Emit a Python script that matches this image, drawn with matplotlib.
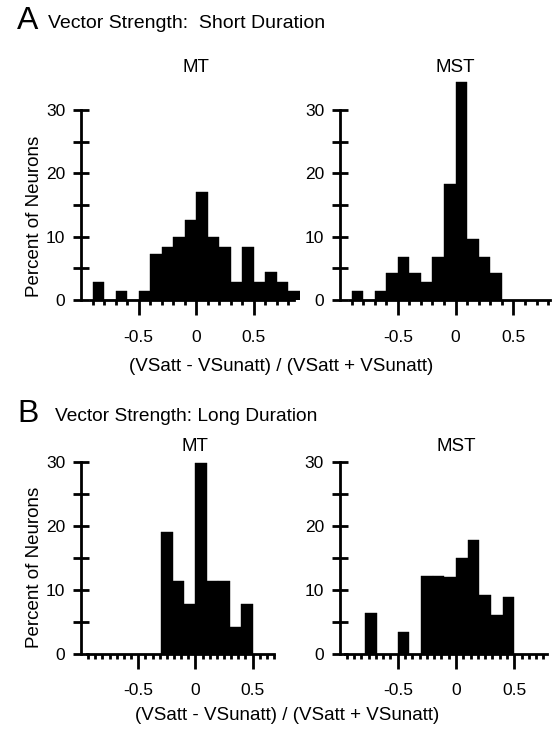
import matplotlib
matplotlib.use("Agg")
import matplotlib.pyplot as plt
import matplotlib.transforms as mtransforms
import numpy as np

plt.rcParams['font.family'] = ['Liberation Sans', 'DejaVu Sans']

# ---------------- data ----------------
bin_width = 0.1

a_mt_left = [-0.9, -0.8, -0.7, -0.6, -0.5, -0.4, -0.3, -0.2, -0.1, 0.0,
             0.1, 0.2, 0.3, 0.4, 0.5, 0.6, 0.7, 0.8]
a_mt_pct = [2.9, 0, 1.4, 0, 1.4, 7.3, 8.4, 9.9, 12.7, 17.0,
            9.9, 8.4, 2.9, 8.4, 2.9, 4.4, 2.9, 1.4]

a_mst_left = [-0.9, -0.8, -0.7, -0.6, -0.5, -0.4, -0.3, -0.2, -0.1, 0.0,
              0.1, 0.2, 0.3]
a_mst_pct = [1.4, 0, 1.4, 4.3, 6.8, 4.3, 2.9, 6.8, 18.3, 34.5, 9.7, 6.8, 4.2]

b_mt_left = [-0.3, -0.2, -0.1, 0.0, 0.1, 0.2, 0.3, 0.4]
b_mt_pct = [19.0, 11.4, 7.8, 29.8, 11.4, 11.3, 4.2, 7.8]

b_mst_left = [-0.78, -0.5, -0.3, -0.2, -0.1, 0.0, 0.1, 0.2, 0.3, 0.4]
b_mst_pct = [6.3, 3.4, 12.1, 12.1, 12.0, 15.0, 17.7, 9.1, 6.1, 8.9]

y_ticks = [0, 5, 10, 15, 20, 25, 30]
y_ticklabels = ['0', '', '10', '', '20', '', '30']
x_major = [-0.5, 0, 0.5]
x_major_labels = ['-0.5', '0', '0.5']

panel_titles = ['MT', 'MST']
header_a = 'Vector Strength:  Short Duration'
header_b = 'Vector Strength: Long Duration'
xlabel = '(VSatt - VSunatt) / (VSatt + VSunatt)'
ylabel = 'Percent of Neurons'

# ---------------- layout ----------------
W, H = 552, 731
fig = plt.figure(figsize=(W / 100, H / 100), dpi=100)


def add_ax(left_px, right_px, top_px, bottom_px):
    return fig.add_axes([left_px / W, 1 - bottom_px / H,
                         (right_px - left_px) / W, (bottom_px - top_px) / H])


FS = 12.5
lw = 2.0


def style(ax, xlim, ylim, minor, xb):
    ax.set_xlim(*xlim)
    ax.set_ylim(*ylim)
    for s in ['top', 'right']:
        ax.spines[s].set_visible(False)
    ax.spines['left'].set_bounds(0, 30)
    ax.spines['left'].set_linewidth(lw)
    ax.spines['bottom'].set_linewidth(lw)
    ax.spines['bottom'].set_bounds(*xb)
    ax.spines['bottom'].set_zorder(0.5)
    ax.set_yticks(y_ticks)
    ax.set_yticklabels(y_ticklabels, fontsize=FS)
    ax.tick_params(axis='y', direction='inout', length=11.5, width=lw, pad=5.5)
    ax.set_xticks(x_major)
    ax.set_xticklabels(x_major_labels, fontsize=FS)
    ax.set_xticks(minor, minor=True)
    ax.tick_params(axis='x', which='major', direction='out', length=10.5,
                   width=lw, pad=11)
    ax.tick_params(axis='x', which='minor', direction='out', length=3.8,
                   width=lw)


minor_a = list(np.round(np.arange(-0.9, 0.85, 0.1), 3))
minor_b_mt = list(np.round(np.arange(-0.9375, 0.7, 0.0625), 4))
minor_b_mst = list(np.round(np.arange(-0.9375, 0.76, 0.0625), 4))

ax1 = add_ax(81, 81 + 1.9 * 115, 300 - 35 * 6.333, 300)
ax2 = add_ax(340, 340 + 1.82 * 115.6, 300 - 35 * 6.333, 300)
ax3 = add_ax(81, 81 + 1.9 * 114.4, 653.5 - 32 * 6.39, 653.5)
ax4 = add_ax(339.5, 339.5 + 1.82 * 116.5, 653.5 - 32 * 6.39, 653.5)

style(ax1, (-1.0, 0.9), (0, 35), minor_a, (-0.92, 0.85))
style(ax2, (-1.0, 0.82), (0, 35), minor_a, (-0.92, 0.82))
style(ax3, (-1.0, 0.9), (0, 32), minor_b_mt, (-0.95, 0.69))
style(ax4, (-1.0, 0.82), (0, 32), minor_b_mst, (-0.95, 0.78))

for ax, left, pct in [(ax1, a_mt_left, a_mt_pct), (ax2, a_mst_left, a_mst_pct),
                      (ax3, b_mt_left, b_mt_pct), (ax4, b_mst_left, b_mst_pct)]:
    ax.bar(left, pct, width=bin_width, align='edge', color='black',
           edgecolor='black', linewidth=0.3, zorder=2)

# panel titles centred on x = 0
for ax, name, ypx in [(ax1, panel_titles[0], 67), (ax2, panel_titles[1], 67),
                      (ax3, panel_titles[0], 446.5), (ax4, panel_titles[1], 446.5)]:
    tr = mtransforms.blended_transform_factory(ax.transData, fig.transFigure)
    ax.text(0, 1 - ypx / H, name, transform=tr, ha='center', va='center',
            fontsize=13.5)

# headers
fig.text(17 / W, 1 - 29 / H, 'A', fontsize=23, ha='left', va='baseline')
fig.text(48 / W, 1 - 28 / H, header_a, fontsize=14, ha='left', va='baseline')
fig.text(17 / W, 1 - 422 / H, 'B', fontsize=23, ha='left', va='baseline')
fig.text(55 / W, 1 - 421 / H, header_b, fontsize=13.8, ha='left', va='baseline')

# axis labels
fig.text(35 / W, 1 - 216 / H, ylabel, rotation=90, fontsize=13.5,
         ha='center', va='center')
fig.text(35 / W, 1 - 567 / H, ylabel, rotation=90, fontsize=13.5,
         ha='center', va='center')
fig.text(281 / W, 1 - 367 / H, xlabel, fontsize=13.5, ha='center', va='center')
fig.text(287 / W, 1 - 716 / H, xlabel, fontsize=13.5, ha='center', va='center')

fig.savefig('out.png', dpi=100)
